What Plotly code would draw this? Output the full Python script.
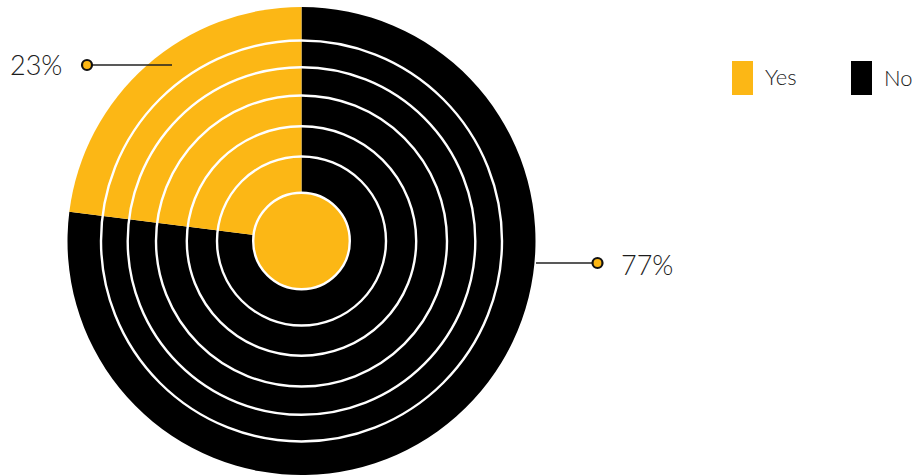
import plotly.graph_objects as go

# ---- data ----
labels = ["Yes", "No"]
values = [23, 77]
colors = ["#FCB715", "#000000"]

W, H = 914, 476
CX, CY, R = 301.5, 241.0, 234.0
ring_radii = [200.5, 173.8, 145.5, 114.7, 84.5]
center_r = 48.3
FONT = "Lato"
TXT = "#1c1c1c"


def px(x):
    return x / W


def py(y):
    return 1 - y / H


fig = go.Figure()
# "No" first, drawn clockwise from 12 o'clock, leaves "Yes" in the upper-left
fig.add_trace(go.Pie(
    labels=labels[::-1], values=values[::-1], sort=False, direction="clockwise",
    rotation=0, marker=dict(colors=colors[::-1], line=dict(width=0)),
    textinfo="none", hoverinfo="label+percent",
    domain=dict(x=[px(CX - R), px(CX + R)], y=[py(CY + R), py(CY - R)]),
))

shapes = []
for r in ring_radii:
    shapes.append(dict(type="circle", xref="paper", yref="paper",
                       xsizemode="pixel", ysizemode="pixel",
                       xanchor=px(CX), yanchor=py(CY),
                       x0=-r, x1=r, y0=-r, y1=r,
                       line=dict(color="white", width=2.4), fillcolor="rgba(0,0,0,0)"))
shapes.append(dict(type="circle", xref="paper", yref="paper",
                   xsizemode="pixel", ysizemode="pixel",
                   xanchor=px(CX), yanchor=py(CY),
                   x0=-center_r, x1=center_r, y0=-center_r, y1=center_r,
                   line=dict(color="white", width=2.4), fillcolor=colors[0]))

# leader lines + dots
leaders = [  # (line x start, dot x, y)
    (172, 87, 65),
    (536, 597.5, 263),
]
for x0, x1, y in leaders:
    shapes.append(dict(type="line", xref="paper", yref="paper",
                       x0=px(x0), x1=px(x1), y0=py(y), y1=py(y),
                       line=dict(color="#222222", width=1.5)))
    shapes.append(dict(type="circle", xref="paper", yref="paper",
                       xsizemode="pixel", ysizemode="pixel",
                       xanchor=px(x1), yanchor=py(y),
                       x0=-5, x1=5, y0=-5, y1=5,
                       line=dict(color="#111111", width=2.2), fillcolor=colors[0]))

# legend swatches
legend_x = [732, 851]
for lx, c in zip(legend_x, colors):
    shapes.append(dict(type="rect", xref="paper", yref="paper",
                       x0=px(lx), x1=px(lx + 21), y0=py(95), y1=py(61),
                       line=dict(width=0), fillcolor=c))

annotations = [
    dict(text=f"{values[0]}%", x=px(64), y=py(65), xanchor="right", yanchor="middle"),
    dict(text=f"{values[1]}%", x=px(619), y=py(264), xanchor="left", yanchor="middle"),
    dict(text=labels[0], x=px(763), y=py(77), xanchor="left", yanchor="middle", size=22),
    dict(text=labels[1], x=px(882), y=py(78), xanchor="left", yanchor="middle", size=22),
]
anns = []
for a in annotations:
    size = a.pop("size", 27)
    anns.append(dict(**a, xref="paper", yref="paper", showarrow=False,
                     font=dict(family=FONT, size=size, color=TXT, weight=300)))

fig.update_layout(
    width=W, height=H, margin=dict(l=0, r=0, t=0, b=0),
    paper_bgcolor="white", plot_bgcolor="white", showlegend=False,
    shapes=shapes, annotations=anns,
)
fig.write_html("out.html", config={"displayModeBar": False},
               post_script="document.body.style.margin='0';")
